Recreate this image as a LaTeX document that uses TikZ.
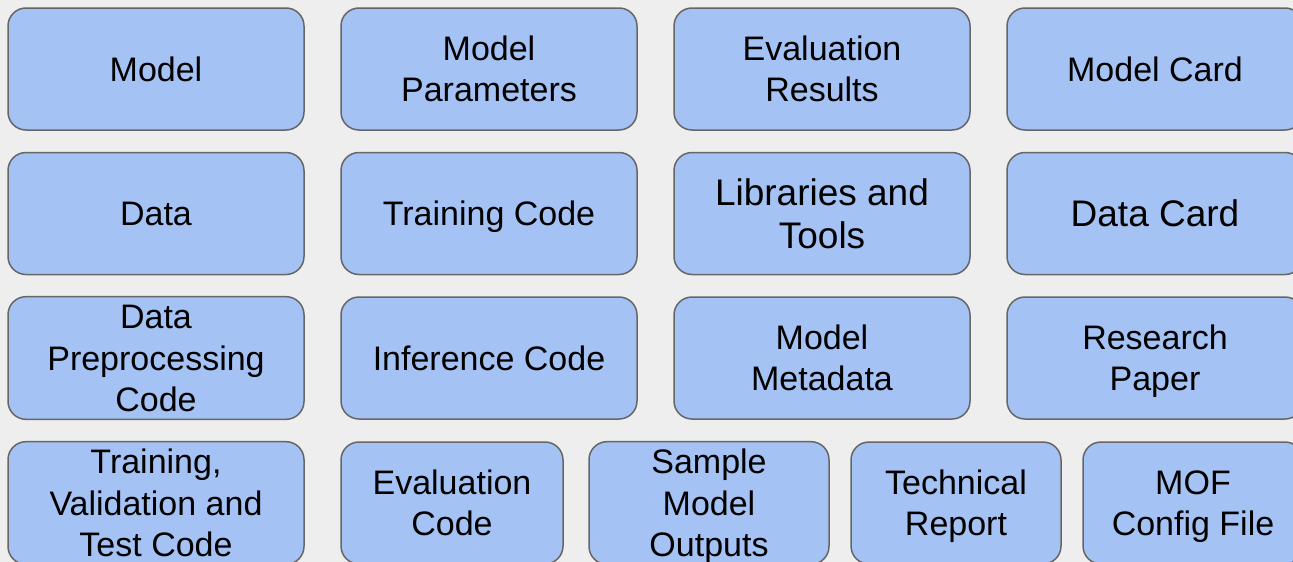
\documentclass[tikz,border=0pt]{standalone}
\usepackage{fontspec}
\setmainfont{Liberation Sans}
\definecolor{pagebg}{HTML}{EEEEEE}
\definecolor{cardfill}{HTML}{A4C2F4}
\definecolor{cardline}{HTML}{666666}
% struts that centre the capital letters of a label on the node centre
\newcommand\topstrut{\rule{0pt}{0.941em}}
\newcommand\botstrut{\rule[-0.225em]{0pt}{0.225em}}
\newcommand\lbl[1]{\topstrut#1\botstrut}
\tikzset{
  card/.style={draw=cardline, line width=1.5pt, fill=cardfill, rounded corners=18pt,
    minimum height=122pt, inner sep=0pt, align=center, text=black,
    font=\fontsize{34}{41.5}\selectfont},
  wide/.style={card, minimum width=296pt},
  big/.style={font=\fontsize{37}{43}\selectfont}
}
\begin{document}
\begin{tikzpicture}[x=1pt,y=-1pt]
\useasboundingbox (0,0) rectangle (1293,562);
\fill[pagebg] (0,0) rectangle (1293,562);
\clip (0,0) rectangle (1293,562);
% first row
\node[wide] (model)   at (156,69)  {\lbl{Model}};
\node[wide] (params)  at (489,69)  {\topstrut Model\\Parameters\botstrut};
\node[wide] (evalres) at (822,69)  {\topstrut Evaluation\\Results\botstrut};
\node[wide] (mcard)   at (1155,69) {\lbl{Model Card}};
% second row
\node[wide] (data)    at (156,213.5)  {\lbl{Data}};
\node[wide] (train)   at (489,213.5)  {\lbl{Training Code}};
\node[wide,big] (libs)  at (822,213.5)  {\topstrut Libraries and\\Tools\botstrut};
\node[wide,big] (dcard) at (1155,213.5) {\lbl{Data Card}};
% third row
\node[wide] (prep)    at (156,358)  {\topstrut Data\\Preprocessing\\Code\botstrut};
\node[wide] (infer)   at (489,358)  {\lbl{Inference Code}};
\node[wide] (meta)    at (822,358)  {\topstrut Model\\Metadata\botstrut};
\node[wide] (paper)   at (1155,358) {\topstrut Research\\Paper\botstrut};
% fourth row
\node[wide] (tvt)     at (156,503)  {\topstrut Training,\\Validation and\\Test Code\botstrut};
\node[card, minimum width=222pt] (evalcode) at (452,503) {\topstrut Evaluation\\Code\botstrut};
\node[card, minimum width=240pt] (samples)  at (709,503) {\topstrut Sample\\Model\\Outputs\botstrut};
\node[card, minimum width=210pt] (report)   at (956,503) {\topstrut Technical\\Report\botstrut};
\node[card, minimum width=220pt] (config)   at (1193,503) {\topstrut MOF\\Config File\botstrut};
\end{tikzpicture}
\end{document}
